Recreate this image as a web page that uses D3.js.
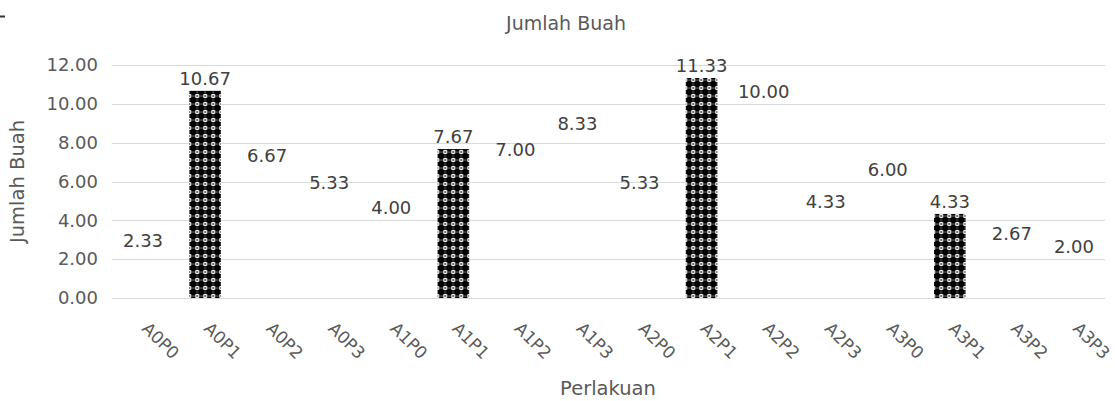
<!DOCTYPE html>
<html>
<head>
<meta charset="utf-8">
<script src="https://cdn.jsdelivr.net/npm/d3@7"></script>
<style>
  html, body { margin: 0; padding: 0; background: #fff; }
  svg { display: block; font-family: "DejaVu Sans", "Liberation Sans", sans-serif; }
</style>
</head>
<body>
<svg id="chart" width="1115" height="401"></svg>
<script>
// Treatment combinations (A = factor level, P = factor level)
const categories = ["A0P0","A0P1","A0P2","A0P3","A1P0","A1P1","A1P2","A1P3",
                    "A2P0","A2P1","A2P2","A2P3","A3P0","A3P1","A3P2","A3P3"];
// Mean number of fruits per treatment
const jumlahBuah = [2.33, 10.67, 6.67, 5.33, 4.00, 7.67, 7.00, 8.33,
                    5.33, 11.33, 10.00, 4.33, 6.00, 4.33, 2.67, 2.00];
// Treatments drawn with a patterned fill
const hatched = ["A0P1","A1P1","A2P1","A3P1"];
const yTicks = [0, 2, 4, 6, 8, 10, 12];

const svg = d3.select("#chart");
const plot = { left: 112, right: 1105, top: 65, bottom: 298 };

const x = d3.scaleBand().domain(categories).range([plot.left, plot.right])
  .paddingInner(0.49).paddingOuter(0.245);
const y = d3.scaleLinear().domain([0, 12]).range([plot.bottom, plot.top]);

// cross pattern fill: black ground with white rings between the crosses
const defs = svg.append("defs");
const pat = defs.append("pattern").attr("id", "cross").attr("patternUnits", "userSpaceOnUse")
  .attr("width", 8).attr("height", 8).attr("x", x("A0P1")).attr("y", 0);
pat.append("rect").attr("width", 8).attr("height", 8).attr("fill", "#000");
[[0,0],[8,0],[0,8],[8,8]].forEach(([cx, cy]) => {
  pat.append("circle").attr("cx", cx).attr("cy", cy).attr("r", 2.3).attr("fill", "#fff");
  pat.append("circle").attr("cx", cx).attr("cy", cy).attr("r", 0.9).attr("fill", "#222");
});
[[4,0],[0,4],[8,4],[4,8]].forEach(([cx, cy]) =>
  pat.append("circle").attr("cx", cx).attr("cy", cy).attr("r", 0.6).attr("fill", "#fff"));

// gridlines
svg.append("g").selectAll("line").data(yTicks.filter(d => d > 0)).join("line")
  .attr("x1", plot.left).attr("x2", plot.right)
  .attr("y1", d => Math.round(y(d)) + 0.5).attr("y2", d => Math.round(y(d)) + 0.5)
  .attr("stroke", "#d9d9d9").attr("stroke-width", 1);

// y axis labels
const yAxis = svg.append("g").attr("transform", `translate(${plot.left},0)`)
  .call(d3.axisLeft(y).tickValues(yTicks).tickFormat(d3.format(".2f")).tickSize(0).tickPadding(14));
yAxis.select(".domain").remove();
yAxis.selectAll("text").attr("fill", "#595959").attr("font-size", 18)
  .attr("font-family", "DejaVu Sans");

// bars
svg.append("g").selectAll("rect").data(categories).join("rect")
  .attr("x", d => x(d))
  .attr("width", x.bandwidth())
  .attr("y", (d, i) => y(jumlahBuah[i]))
  .attr("height", (d, i) => y(0) - y(jumlahBuah[i]))
  .attr("fill", d => hatched.includes(d) ? "url(#cross)" : "none");

// x axis
const xAxis = svg.append("g").attr("transform", `translate(0,${Math.round(y(0)) + 0.5})`)
  .call(d3.axisBottom(x).tickSize(0).tickPadding(0));
xAxis.select(".domain").attr("stroke", "#d9d9d9").attr("d", `M${plot.left},0H${plot.right}`);
xAxis.selectAll("text")
  .attr("fill", "#595959").attr("font-size", 17).attr("font-family", "DejaVu Sans")
  .attr("text-anchor", "start")
  .attr("dy", 0).attr("y", 0)
  .attr("transform", "translate(-2,31) rotate(45)");

// value labels
svg.append("g").selectAll("text").data(categories).join("text")
  .attr("x", d => x(d) + x.bandwidth() / 2)
  .attr("y", (d, i) => y(jumlahBuah[i]) - 6)
  .attr("text-anchor", "middle")
  .attr("font-size", 18).attr("fill", "#404040")
  .text((d, i) => jumlahBuah[i].toFixed(2));

// titles
svg.append("text").attr("x", 566).attr("y", 30).attr("text-anchor", "middle")
  .attr("font-size", 19).attr("fill", "#595959").text("Jumlah Buah");
svg.append("text").attr("transform", `translate(24,${(y(0) + y(12)) / 2}) rotate(-90)`)
  .attr("text-anchor", "middle").attr("font-size", 19.5).attr("fill", "#595959").text("Jumlah Buah");
svg.append("text").attr("x", 608).attr("y", 395).attr("text-anchor", "middle")
  .attr("font-size", 19.5).attr("fill", "#595959").text("Perlakuan");

// small mark at the upper-left corner
svg.append("line").attr("x1", 0).attr("x2", 5).attr("y1", 16.5).attr("y2", 16.5)
  .attr("stroke", "#333").attr("stroke-width", 2);
</script>
</body>
</html>
